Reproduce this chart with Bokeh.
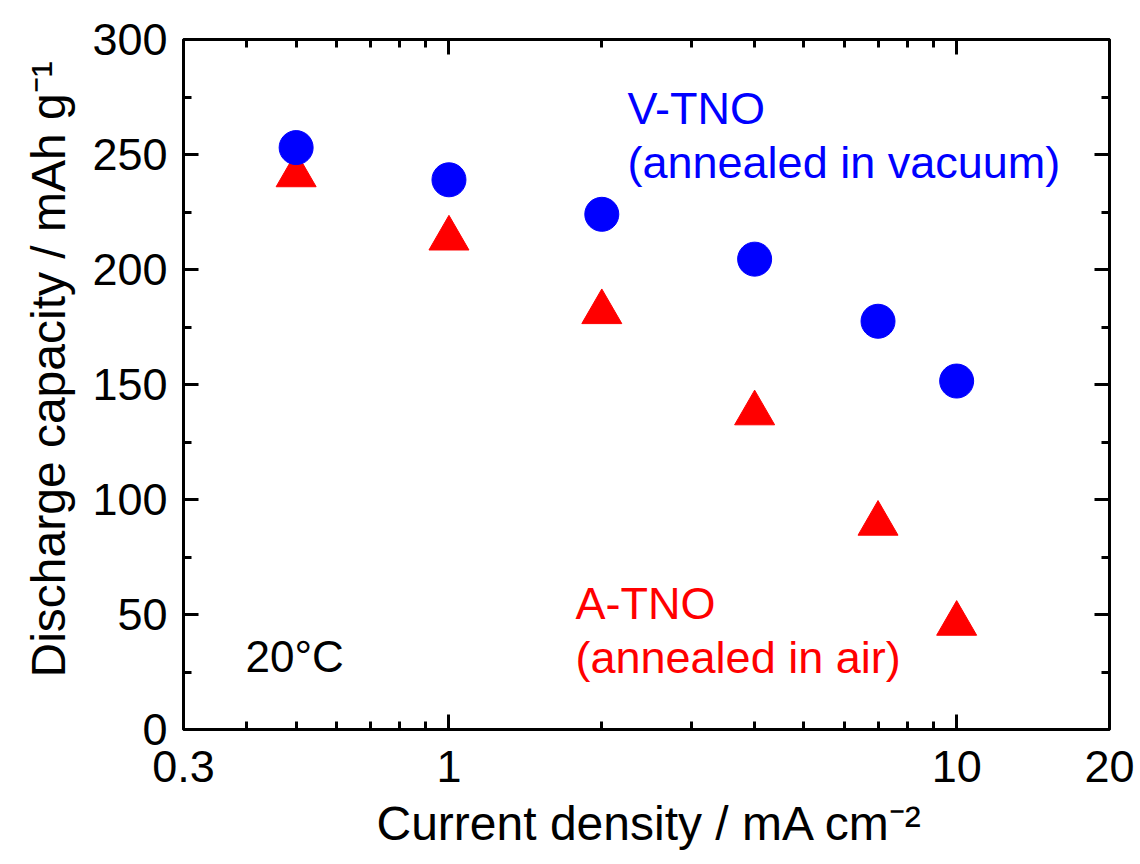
import math
from bokeh.plotting import figure
from bokeh.models import Range1d, FixedTicker, LogAxis, LinearAxis, Label, Title, CustomJSTickFormatter
from bokeh.embed import file_html
from bokeh.resources import INLINE

# ---- data ----
current_density = [0.5, 1, 2, 4, 7, 10]                  # mA cm^-2
v_tno_capacity = [253, 239, 224, 204.5, 177.5, 151.5]    # V-TNO, annealed in vacuum
a_tno_capacity = [241, 213.5, 181.5, 137.5, 89.5, 46]    # A-TNO, annealed in air

x_major_ticks = [0.3, 1, 10, 20]
x_minor_ticks = [0.4, 0.5, 0.6, 0.7, 0.8, 0.9, 2, 3, 4, 5, 6, 7, 8, 9]
y_major_ticks = [0, 50, 100, 150, 200, 250, 300]
y_minor_ticks = [25, 75, 125, 175, 225, 275]

FONT = "Liberation Sans"

p = figure(width=1140, height=864, x_axis_type="log",
           x_range=Range1d(0.3, 20), y_range=Range1d(0, 300),
           output_backend="svg", toolbar_location=None,
           min_border_left=183, min_border_right=31,
           min_border_top=39, min_border_bottom=134)
p.background_fill_color = "white"
p.border_fill_color = "white"
p.outline_line_color = "black"
p.outline_line_width = 3
p.xgrid.visible = False
p.ygrid.visible = False

fmt = CustomJSTickFormatter(code="return String(tick);")

def style_axis(ax, show_labels, standoff):
    ax.axis_line_color = None
    ax.major_tick_in = 15
    ax.major_tick_out = 0
    ax.minor_tick_in = 8
    ax.minor_tick_out = 0
    ax.major_tick_line_width = 3
    ax.minor_tick_line_width = 3
    ax.major_tick_line_color = "black"
    ax.minor_tick_line_color = "black"
    if show_labels:
        ax.major_label_text_font = FONT
        ax.major_label_text_font_size = "45px"
        ax.major_label_text_color = "black"
        ax.major_label_standoff = standoff
    else:
        ax.major_label_text_font_size = "0px"
        ax.major_label_text_color = None
        ax.major_label_standoff = 0

xt = FixedTicker(ticks=x_major_ticks, minor_ticks=x_minor_ticks)
yt = FixedTicker(ticks=y_major_ticks, minor_ticks=y_minor_ticks)

bx = p.xaxis[0]
bx.ticker = xt
bx.formatter = fmt
style_axis(bx, True, 21)
ly = p.yaxis[0]
ly.ticker = yt
style_axis(ly, True, 16)

tx = LogAxis(ticker=xt, formatter=fmt)
style_axis(tx, False, 0)
p.add_layout(tx, "above")
ry = LinearAxis(ticker=yt)
style_axis(ry, False, 0)
p.add_layout(ry, "right")

# ---- axis titles (placed in the side panels) ----
xtitle = Title(text="Current density / mA cm\u207b\u00b2", align="left", offset=193,
               vertical_align="top", standoff=25,
               text_font=FONT, text_font_size="48px", text_font_style="normal",
               text_color="black")
p.add_layout(xtitle, "below")
ytitle = Title(text="Discharge capacity / mAh g\u207b\u00b9", align="left", offset=52,
               vertical_align="bottom", standoff=29,
               text_font=FONT, text_font_size="48px", text_font_style="normal",
               text_color="black")
p.add_layout(ytitle, "left")

# ---- markers ----
p.scatter(current_density, a_tno_capacity, marker="triangle", size=40,
          fill_color="#FF0000", line_color="#FF0000", line_width=1)
p.scatter(current_density, v_tno_capacity, marker="circle", size=34,
          fill_color="#0000FF", line_color="#0000FF", line_width=1)

# ---- in-plot annotations (screen units relative to the frame) ----
def lab(text, x, y, size, color="black"):
    p.add_layout(Label(x=x, y=y, x_units="screen", y_units="screen", text=text,
                       text_font=FONT, text_font_size=size, text_color=color,
                       text_align="left", text_baseline="alphabetic"))

lab("V-TNO", 444, 621, "45px", "#0000FF")
lab("(annealed in vacuum)", 444, 567, "45px", "#0000FF")
lab("A-TNO", 392, 126, "45px", "#FF0000")
lab("(annealed in air)", 392, 72, "45px", "#FF0000")
lab("20\u00b0C", 62, 73, "44px", "black")

open("out.html", "w").write(file_html(p, INLINE))
